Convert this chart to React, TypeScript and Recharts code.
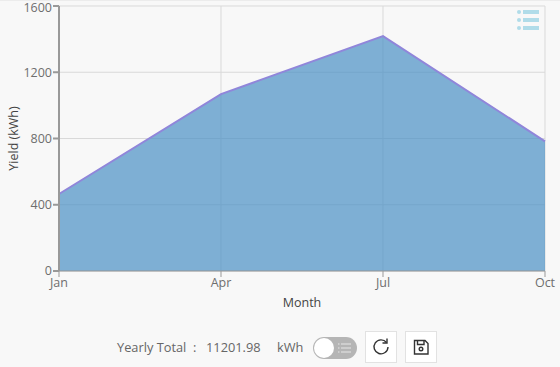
import { Area, AreaChart, CartesianGrid, XAxis, YAxis } from "recharts";

const months = ["Jan", "Apr", "Jul", "Oct"];
const yields = [465, 1068, 1418, 783];
const yTicks = [0, 400, 800, 1200, 1600];

const chartData = months.map((month, i) => ({ month, yieldKwh: yields[i] }));

const font = "'Open Sans', sans-serif";
const tickStyle = { fill: "#6e6e6e", fontSize: 12.5, fontFamily: font };
const labelStyle = { fill: "#444", fontSize: 12.5, fontFamily: font };

function MenuIcon() {
    return (
        <svg width="24" height="24" style={{ position: "absolute", left: 516, top: 8 }}>
            {[4, 12, 20].map((y) => (
                <g key={y} fill="#b0dce9">
                    <circle cx="3" cy={y} r="2" />
                    <rect x="7" y={y - 2} width="16" height="4" />
                </g>
            ))}
        </svg>
    );
}

function Toggle() {
    return (
        <div
            style={{
                position: "absolute",
                left: 313,
                top: 337,
                width: 44,
                height: 22,
                borderRadius: 11,
                background: "#b5b5b5",
            }}
        >
            <div
                style={{
                    position: "absolute",
                    left: 1,
                    top: 1,
                    width: 20,
                    height: 20,
                    borderRadius: 10,
                    background: "#fff",
                }}
            />
            <svg width="14" height="12" style={{ position: "absolute", left: 25, top: 5 }}>
                {[2, 6, 10].map((y) => (
                    <g key={y} fill="#e8e8e8">
                        <rect x="0" y={y - 0.5} width="1.5" height="1" />
                        <rect x="3" y={y - 0.5} width="10" height="1" />
                    </g>
                ))}
            </svg>
        </div>
    );
}

function IconButton({ left, width, children }: { left: number; width: number; children: React.ReactNode }) {
    return (
        <div
            style={{
                position: "absolute",
                left,
                top: 331,
                width,
                height: 32,
                background: "#fff",
                border: "1px solid #e2e2e2",
                boxSizing: "border-box",
            }}
        >
            {children}
        </div>
    );
}

function FooterText({ left, text }: { left: number; text: string }) {
    return (
        <div style={{ position: "absolute", left, top: 338, fontSize: 12.8, color: "#666", whiteSpace: "pre" }}>
            {text}
        </div>
    );
}

export default function App() {
    return (
        <div
            style={{
                position: "absolute",
                left: 0,
                top: 0,
                width: 560,
                height: 367,
                background: "#f8f8f8",
                overflow: "hidden",
                fontFamily: font,
            }}
        >
            <div style={{ position: "absolute", left: 0, top: 0, width: 560, height: 1, background: "#ececec" }} />
            <AreaChart
                width={560}
                height={367}
                data={chartData}
                margin={{ top: 6, right: 15, left: 0, bottom: 56 }}
            >
                <CartesianGrid stroke="#d9d9d9" strokeWidth={1} />
                <XAxis
                    dataKey="month"
                    scale="point"
                    padding={{ left: 0, right: 0 }}
                    height={40}
                    interval={0}
                    stroke="#999"
                    tickSize={6}
                    tickMargin={1}
                    tick={tickStyle}
                    label={{ value: "Month", position: "insideBottom", offset: 4, style: labelStyle }}
                />
                <YAxis
                    width={59}
                    domain={[0, 1600]}
                    ticks={yTicks}
                    stroke="#999"
                    strokeWidth={2}
                    tickSize={6}
                    tickMargin={1}
                    tick={tickStyle}
                    label={{ value: "Yield (kWh)", angle: -90, position: "insideLeft", offset: 14, style: { ...labelStyle, textAnchor: "middle" } }}
                />
                <Area
                    type="linear"
                    dataKey="yieldKwh"
                    stroke="#9086da"
                    strokeWidth={2}
                    fill="#4a90c4"
                    fillOpacity={0.7}
                    isAnimationActive={false}
                />
            </AreaChart>
            <MenuIcon />
            <FooterText left={117} text="Yearly Total" />
            <FooterText left={193} text=":" />
            <FooterText left={206} text="11201.98" />
            <FooterText left={277} text="kWh" />
            <Toggle />
            <IconButton left={365} width={32}>
                <svg width="30" height="30" fill="none" stroke="#333" strokeWidth="1.4">
                    <path d="M20.5 10.5 A7 7 0 1 0 22 15" />
                    <path d="M21 6.5 V11 H16.5" />
                </svg>
            </IconButton>
            <IconButton left={405} width={32}>
                <svg width="30" height="30" fill="none" stroke="#333" strokeWidth="1.4">
                    <path d="M8.5 8.5 H19 L22 11.5 V22 H8.5 Z" />
                    <path d="M11.5 8.5 V12.5 H18 V8.5" />
                    <circle cx="15" cy="17" r="1.8" />
                </svg>
            </IconButton>
        </div>
    );
}
